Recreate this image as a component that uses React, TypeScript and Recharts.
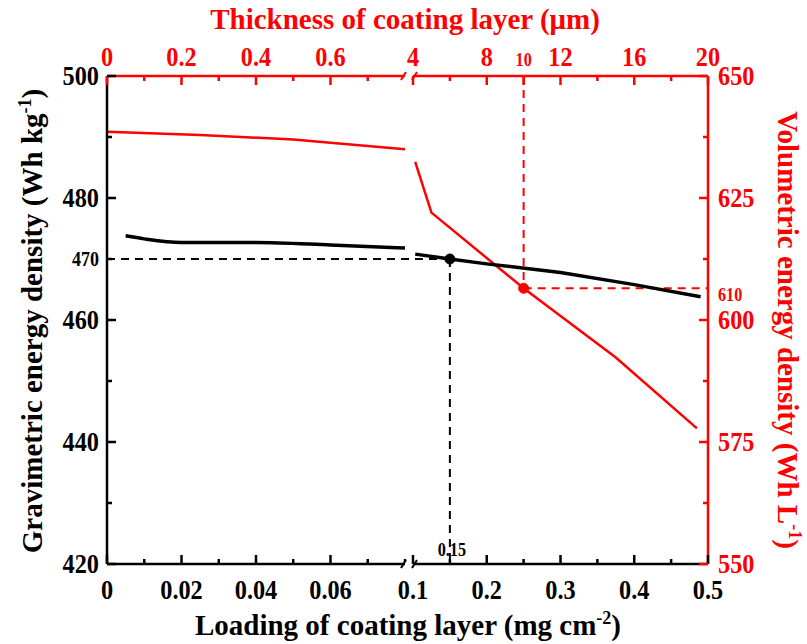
import { ComposedChart, Line, XAxis, YAxis, ReferenceLine, ReferenceDot } from 'recharts'

const RED = '#ff0000'
const FONT = 'Liberation Serif, Times New Roman, serif'

// gravimetric energy density (Wh kg-1) vs loading (mg cm-2), both sides of the break
const gravLoadLeft = [0.005, 0.01, 0.02, 0.04, 0.06, 0.08]
const gravLeft = [473.8, 473.3, 472.7, 472.7, 472.3, 471.8]
const gravLoadRight = [0.103, 0.15, 0.2, 0.3, 0.4, 0.49]
const gravRight = [470.8, 470, 469.2, 467.8, 465.8, 463.8]

// volumetric energy density (Wh L-1)
const volLoadLeft = [0, 0.025, 0.05, 0.08]
const volLeft = [638.6, 637.9, 637.0, 635.0]
const volLoadRight = [0.103, 0.125, 0.25, 0.375, 0.485]
const volRight = [632.4, 622, 606.5, 592.3, 577.8]

// marked points
const gravMark = { load: 0.15, value: 470 }
const volMark = { load: 0.25, value: 606.5 }

// tick values
const loadTicks = [0, 0.02, 0.04, 0.06, 0.1, 0.2, 0.3, 0.4, 0.5]
const loadMinor = [0.01, 0.03, 0.05, 0.07, 0.08, 0.15, 0.25, 0.35, 0.45]
const thickTicksLeft = [0, 0.2, 0.4, 0.6]
const thickMinorLeft = [0.1, 0.3, 0.5, 0.7]
const thickTicksRight = [4, 8, 12, 16, 20]
const thickMinorRight = [6, 14, 18]
const thickSmall = [10]
const gravTicks = [420, 440, 460, 480, 500]
const gravMinor = [430, 450, 490]
const gravSmall = [470]
const volTicks = [550, 575, 600, 625, 650]
const volMinor = [562.5, 587.5, 612.5, 637.5]

// broken axis: 0–0.08 on the left part, 0.1–0.5 on the right part
const BREAK_LO = 0.08
const BREAK_HI = 0.1
const brk = (l: number) => (l <= BREAK_LO ? (l / BREAK_LO) * 298 : 306 + ((l - BREAK_HI) / 0.4) * 295)
const thickLeft = (t: number) => brk(t / 10)
const thickRight = (t: number) => brk(t / 40)

type TickDef = { v: number; kind: 'major' | 'minor' | 'break' | 'none'; label?: string; small?: boolean }
const near = (defs: TickDef[], v: number) => defs.find((d) => Math.abs(d.v - v) < 1e-6)

const bottomDefs: TickDef[] = [
  ...loadTicks.map((l) => ({ v: brk(l), kind: 'major' as const, label: String(l) })),
  ...loadMinor.map((l) => ({ v: brk(l), kind: 'minor' as const, label: l === gravMark.load ? String(l) : undefined, small: true })),
  { v: (brk(BREAK_LO) + brk(BREAK_HI)) / 2, kind: 'break' },
]
const topDefs: TickDef[] = [
  ...thickTicksLeft.map((t) => ({ v: thickLeft(t), kind: 'major' as const, label: String(t) })),
  ...thickMinorLeft.map((t) => ({ v: thickLeft(t), kind: 'minor' as const })),
  ...thickTicksRight.map((t) => ({ v: thickRight(t), kind: 'major' as const, label: String(t) })),
  ...thickMinorRight.map((t) => ({ v: thickRight(t), kind: 'minor' as const })),
  ...thickSmall.map((t) => ({ v: thickRight(t), kind: 'major' as const, label: String(t), small: true })),
  { v: (brk(BREAK_LO) + brk(BREAK_HI)) / 2, kind: 'break' },
]
const leftDefs: TickDef[] = [
  ...gravTicks.map((v) => ({ v, kind: 'major' as const, label: String(v) })),
  ...gravMinor.map((v) => ({ v, kind: 'minor' as const })),
  ...gravSmall.map((v) => ({ v, kind: 'minor' as const, label: String(v), small: true })),
]
const rightDefs: TickDef[] = [
  ...volTicks.map((v) => ({ v, kind: 'major' as const, label: String(v) })),
  ...volMinor.map((v) => ({ v, kind: 'minor' as const })),
  { v: volMark.value, kind: 'none', label: '610', small: true },
]

const tickFont = { fontFamily: FONT, fontWeight: 700, fontSize: 27 }
const smallFont = { fontFamily: FONT, fontWeight: 700, fontSize: 18 }
const titleFont = { fontFamily: FONT, fontWeight: 700, fontSize: 29 }

// the original type is a little narrow, squeeze tick labels horizontally
const Narrow = ({ x, y, anchor, fill, style, children }: any) => (
  <text transform={`translate(${x},${y}) scale(0.9,1)`} textAnchor={anchor} fill={fill} style={style}>
    {children}
  </text>
)

const BreakMark = ({ x, y, color }: { x: number; y: number; color: string }) => (
  <g>
    <rect x={x - 4} y={y - 4} width={8} height={8} fill="#fff" />
    <line x1={x - 8} y1={y + 4} x2={x - 3} y2={y - 4} stroke={color} strokeWidth={2} />
    <line x1={x + 3} y1={y + 4} x2={x + 8} y2={y - 4} stroke={color} strokeWidth={2} />
  </g>
)

function BottomTick(props: any) {
  const { x, y, payload } = props
  const d = near(bottomDefs, payload.value)
  if (!d) return null
  if (d.kind === 'break') return <BreakMark x={x} y={y} color="#000" />
  const len = d.kind === 'major' ? 9 : 5
  return (
    <g>
      <line x1={x} y1={y} x2={x} y2={y - len} stroke="#000" strokeWidth={2.5} />
      {d.label && !d.small && (
        <Narrow x={x} y={y + 35} anchor="middle" fill="#000" style={tickFont}>{d.label}</Narrow>
      )}
      {d.label && d.small && (
        <Narrow x={x + 2} y={y - 8} anchor="middle" fill="#000" style={smallFont}>{d.label}</Narrow>
      )}
    </g>
  )
}

function TopTick(props: any) {
  const { x, y, payload } = props
  const d = near(topDefs, payload.value)
  if (!d) return null
  if (d.kind === 'break') return <BreakMark x={x} y={y} color={RED} />
  const len = d.kind === 'major' ? 9 : 5
  return (
    <g>
      <line x1={x} y1={y} x2={x} y2={y + len} stroke={RED} strokeWidth={2.5} />
      {d.label && (
        <Narrow x={x} y={y - 10} anchor="middle" fill={RED} style={d.small ? smallFont : tickFont}>{d.label}</Narrow>
      )}
    </g>
  )
}

function LeftTick(props: any) {
  const { x, y, payload } = props
  const d = near(leftDefs, payload.value)
  if (!d) return null
  const len = d.kind === 'major' ? 9 : 5
  return (
    <g>
      <line x1={x} y1={y} x2={x + len} y2={y} stroke="#000" strokeWidth={2.5} />
      {d.label && (
        <Narrow x={x - 8} y={y + (d.small ? 7 : 9)} anchor="end" fill="#000" style={d.small ? { ...smallFont, fontSize: 20 } : tickFont}>
          {d.label}
        </Narrow>
      )}
    </g>
  )
}

function RightTick(props: any) {
  const { x, y, payload } = props
  const d = near(rightDefs, payload.value)
  if (!d) return null
  const len = d.kind === 'major' ? 9 : 5
  return (
    <g>
      {d.kind !== 'none' && <line x1={x} y1={y} x2={x - len} y2={y} stroke={RED} strokeWidth={2.5} />}
      {d.label && (
        <Narrow x={x + 10} y={y + (d.small ? 13 : 9)} anchor="start" fill={RED} style={d.small ? smallFont : tickFont}>
          {d.label}
        </Narrow>
      )}
    </g>
  )
}

const rows = (loads: number[], vals: number[]) => loads.map((l, i) => ({ u: brk(l), v: vals[i] }))

export default function App() {
  const dash = '8 6'
  return (
    <div style={{ position: 'absolute', left: 0, top: 0, width: 807, height: 644, background: '#fff' }}>
      <ComposedChart width={807} height={644} margin={{ top: 0, right: 0, bottom: 0, left: 0 }}>
        <XAxis
          xAxisId="bottom" dataKey="u" type="number" domain={[0, 601]} allowDataOverflow
          ticks={bottomDefs.map((d) => d.v).sort((a, b) => a - b)} interval={0}
          height={80} tickSize={0} tickMargin={0} tick={<BottomTick />}
          axisLine={{ stroke: '#000', strokeWidth: 2.5 }} tickLine={false}
        />
        <XAxis
          xAxisId="top" orientation="top" dataKey="u" type="number" domain={[0, 601]} allowDataOverflow
          ticks={topDefs.map((d) => d.v).sort((a, b) => a - b)} interval={0}
          height={76} tickSize={0} tickMargin={0} tick={<TopTick />}
          axisLine={{ stroke: RED, strokeWidth: 2.5 }} tickLine={false}
        />
        <YAxis
          yAxisId="g" type="number" domain={[420, 500]} allowDataOverflow
          ticks={leftDefs.map((d) => d.v).sort((a, b) => a - b)} interval={0}
          width={107} tickSize={0} tickMargin={0} tick={<LeftTick />}
          axisLine={{ stroke: '#000', strokeWidth: 2.5 }} tickLine={false}
        />
        <YAxis
          yAxisId="v" orientation="right" type="number" domain={[550, 650]} allowDataOverflow
          ticks={rightDefs.map((d) => d.v).sort((a, b) => a - b)} interval={0}
          width={99} tickSize={0} tickMargin={0} tick={<RightTick />}
          axisLine={{ stroke: RED, strokeWidth: 2.5 }} tickLine={false}
        />

        <ReferenceLine xAxisId="bottom" yAxisId="g" stroke="#000" strokeWidth={2} strokeDasharray={dash}
          segment={[{ x: brk(0), y: gravMark.value }, { x: brk(gravMark.load), y: gravMark.value }]} />
        <ReferenceLine xAxisId="bottom" yAxisId="g" stroke="#000" strokeWidth={2} strokeDasharray={dash}
          segment={[{ x: brk(gravMark.load), y: gravMark.value }, { x: brk(gravMark.load), y: 420 }]} />
        <ReferenceLine xAxisId="bottom" yAxisId="v" stroke={RED} strokeWidth={2} strokeDasharray={dash}
          segment={[{ x: brk(volMark.load), y: 650 }, { x: brk(volMark.load), y: volMark.value }]} />
        <ReferenceLine xAxisId="bottom" yAxisId="v" stroke={RED} strokeWidth={2} strokeDasharray={dash}
          segment={[{ x: brk(volMark.load), y: volMark.value }, { x: brk(0.5), y: volMark.value }]} />

        <Line xAxisId="bottom" yAxisId="v" data={rows(volLoadLeft, volLeft)} dataKey="v" stroke={RED}
          strokeWidth={2.5} dot={false} activeDot={false} isAnimationActive={false} />
        <Line xAxisId="bottom" yAxisId="v" data={rows(volLoadRight, volRight)} dataKey="v" stroke={RED}
          strokeWidth={2.5} dot={false} activeDot={false} isAnimationActive={false} />
        <Line xAxisId="bottom" yAxisId="g" data={rows(gravLoadLeft, gravLeft)} dataKey="v" stroke="#000"
          strokeWidth={3.5} dot={false} activeDot={false} isAnimationActive={false} type="monotone" />
        <Line xAxisId="bottom" yAxisId="g" data={rows(gravLoadRight, gravRight)} dataKey="v" stroke="#000"
          strokeWidth={3.5} dot={false} activeDot={false} isAnimationActive={false} />

        <ReferenceDot xAxisId="bottom" yAxisId="g" x={brk(gravMark.load)} y={gravMark.value} r={5} fill="#000" stroke="#000" />
        <ReferenceDot xAxisId="bottom" yAxisId="v" x={brk(volMark.load)} y={volMark.value} r={5} fill={RED} stroke={RED} />
      </ComposedChart>

      <svg width={807} height={644} style={{ position: 'absolute', left: 0, top: 0, pointerEvents: 'none' }}>
        <text x={405} y={29} textAnchor="middle" fill={RED} style={titleFont}>Thickness of coating layer (μm)</text>
        <text x={408} y={635} textAnchor="middle" fill="#000" style={titleFont}>
          Loading of coating layer (mg cm<tspan dy={-11} fontSize={18}>-2</tspan><tspan dy={11}>)</tspan>
        </text>
        <text transform="translate(42, 321) rotate(-90)" textAnchor="middle" fill="#000" style={titleFont}>
          Gravimetric energy density (Wh kg<tspan dy={-11} fontSize={18}>-1</tspan><tspan dy={11}>)</tspan>
        </text>
        <text transform="translate(778, 330) rotate(90)" textAnchor="middle" fill={RED} style={titleFont}>
          Volumetric energy density (Wh L<tspan dy={-11} fontSize={18}>-1</tspan><tspan dy={11}>)</tspan>
        </text>
      </svg>
    </div>
  )
}
